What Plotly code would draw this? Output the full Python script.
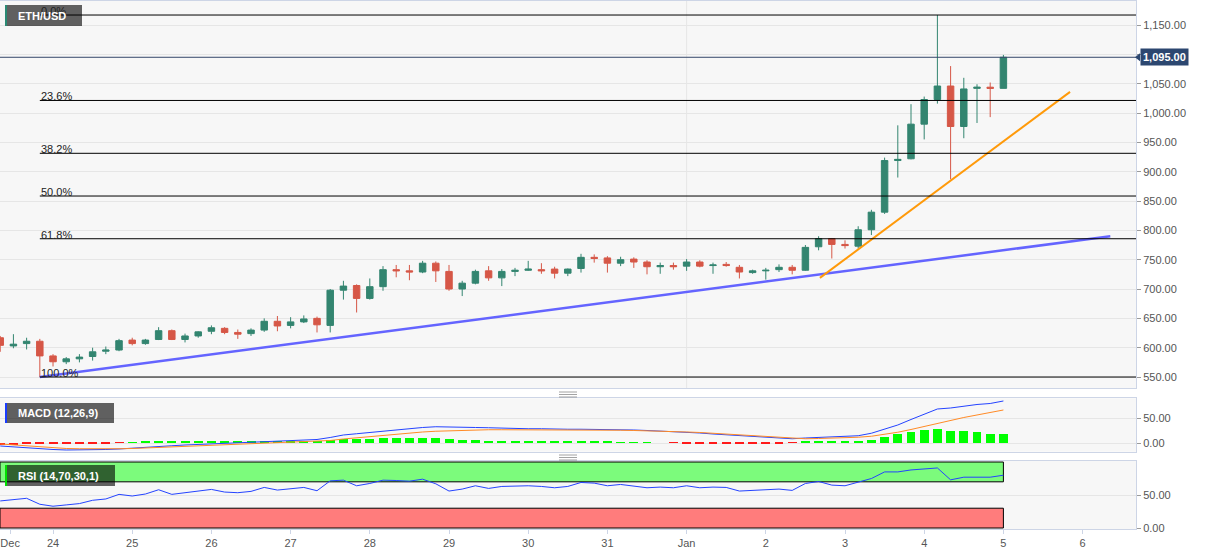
import pandas as pd
import plotly.graph_objects as go
from plotly.subplots import make_subplots

# ---------------- data (4-hour candles, ETH/USD) ----------------
times = pd.date_range("2020-12-23 08:00", periods=77, freq="4h")

opens = [617, 603, 607, 611, 586, 576, 581, 585, 594, 596,
         613, 607, 614, 629, 614, 620, 628, 633, 626, 624,
         630, 645, 638, 644, 650, 638, 698, 706, 684, 704,
         733, 731, 729, 744, 730, 700, 710, 731, 719, 730,
         732, 733, 734, 727, 735, 754, 753, 744, 751, 746,
         738, 740, 739, 746, 740, 742, 737, 728, 731, 733,
         737, 732, 772, 786, 776, 773, 801, 831, 919, 922,
         981, 1023, 1046, 977, 1042, 1044, 1042]
highs = [620, 623, 617, 615, 589, 584, 589, 600, 602, 615,
         617, 615, 635, 631, 624, 628, 638, 635, 631, 633,
         650, 654, 652, 655, 653, 700, 714, 708, 718, 739,
         741, 741, 748, 747, 741, 714, 733, 739, 734, 736,
         748, 744, 738, 735, 760, 759, 756, 755, 754, 749,
         745, 745, 751, 749, 745, 746, 741, 733, 736, 742,
         741, 775, 790, 787, 783, 807, 835, 924, 979, 1015,
         1028, 1167, 1080, 1060, 1049, 1052, 1099]
lows = [593, 599, 597, 550, 568, 572, 575, 578, 589, 594,
        604, 605, 613, 613, 609, 617, 623, 623, 615, 620,
        627, 628, 633, 642, 626, 626, 682, 660, 682, 697,
        720, 715, 727, 712, 697, 688, 708, 714, 705, 722,
        731, 726, 718, 722, 728, 745, 728, 739, 736, 725,
        726, 733, 731, 737, 726, 738, 718, 726, 716, 729,
        725, 731, 766, 752, 769, 769, 792, 828, 890, 921,
        955, 1016, 887, 957, 983, 993, 1042]
closes = [604, 606, 611, 586, 576, 581, 584, 593, 596, 612,
          607, 613, 629, 614, 620, 627, 634, 626, 623, 630,
          645, 637, 644, 649, 639, 698, 705, 684, 704, 733,
          731, 729, 744, 731, 700, 710, 730, 719, 730, 732,
          734, 731, 727, 734, 754, 752, 744, 750, 746, 738,
          740, 738, 746, 739, 741, 740, 729, 731, 732, 737,
          732, 771, 786, 776, 774, 801, 831, 919, 921, 981,
          1023, 1046, 977, 1041, 1044, 1042, 1095]

macd_line = [-6, -8, -9.5, -11, -13, -14, -14, -13.5, -13, -12,
             -10, -8.5, -7, -5.5, -4, -3, -1, 0, 1, 2.5,
             3.5, 4.5, 5.5, 6, 7, 11, 16, 18.5, 21, 24.5,
             27, 29, 31, 32.5, 32.5, 31.5, 31, 30.5, 29.5, 29.5,
             28.5, 28.5, 27.5, 27.5, 27.5, 27.5, 27.5, 26.5, 26, 25,
             24, 22.5, 21, 20, 18, 16.5, 14.5, 13, 11, 9.5,
             8.5, 10, 11, 11.5, 13, 14.5, 19.5, 27, 36, 47,
             58, 68, 70, 74, 77, 79, 84]
signal_line = [-2, -4, -6, -8, -10, -11, -11.5, -12, -12, -11.5,
               -11, -10, -9, -8, -7, -6, -4.5, -3.5, -2.5, -1.5,
               -0.5, 0.5, 1.5, 2, 3, 5, 8, 10.5, 13, 15.5,
               18, 20, 22, 23.5, 24.5, 25.5, 26, 26.5, 26.5, 26.5,
               26.5, 26.5, 26, 26, 26, 26, 26, 25.5, 25, 24.5,
               24, 23, 22, 21, 19.5, 18, 16.5, 15, 13, 11,
               9, 8.5, 9, 9.5, 10.5, 11.5, 13.5, 17, 21.5, 27,
               33, 40, 46, 51, 56, 61, 66]
macd_hist = [-4, -4, -3.5, -3, -3, -3, -2.5, -1.5, -1, -0.5,
             1, 1.5, 2, 2.5, 3, 3, 3.5, 3.5, 3.5, 4,
             4, 4, 4, 4, 4, 6, 8, 8, 8, 9,
             9, 9, 9, 9, 8, 6, 5, 4, 3, 3,
             2, 2, 1.5, 1.5, 1.5, 1.5, 1.5, 1, 1, 0.5,
             0, -0.5, -1, -1, -1.5, -1.5, -2, -2, -2, -1.5,
             -0.5, 1.5, 2, 2, 2.5, 3, 6, 11, 17, 21,
             25, 28, 24, 23, 21, 18, 18]
rsi = [41, 43, 45, 36, 33, 35, 37, 42, 44, 51,
       48.5, 51.5, 58, 51, 53.5, 56, 58.5, 54.5, 53.5, 55.5,
       61.5, 57.5, 59.5, 61.5, 56.5, 71.5, 72.5, 64, 67.5, 72.5,
       72, 71, 74, 67, 56, 59, 64, 60, 63, 63.5,
       64, 63, 61, 63, 69, 68, 64, 66, 64, 61,
       62, 61, 64, 61, 62, 61.5, 56, 57, 57, 59,
       57, 67.5, 70.5, 65, 64, 69, 75, 85, 85, 88,
       90, 91, 73, 77, 77, 77, 80]

fib_ratios = [0.0, 0.236, 0.382, 0.5, 0.618, 1.0]
fib_labels = ["0.0%", "23.6%", "38.2%", "50.0%", "61.8%", "100.0%"]
fib_high = 1167
fib_low = 550
fib_start = "2020-12-23 20:00"

blue_trend_x = ["2020-12-23 20:00", "2021-01-06 08:24"]
blue_trend_y = [550, 790]
orange_trend_x = ["2021-01-02 16:24", "2021-01-05 20:12"]
orange_trend_y = [719, 1036]

last_price = 1095
last_price_text = "1,095.00"

x_tick_vals = ["2020-12-23 11:00", "2020-12-24", "2020-12-25", "2020-12-26", "2020-12-27",
               "2020-12-28", "2020-12-29", "2020-12-30", "2020-12-31", "2021-01-01",
               "2021-01-02", "2021-01-03", "2021-01-04", "2021-01-05", "2021-01-06"]
x_tick_text = ["Dec", "24", "25", "26", "27", "28", "29", "30", "31", "Jan",
               "2", "3", "4", "5", "6"]
price_ticks = [550, 600, 650, 700, 750, 800, 850, 900, 950, 1000, 1050, 1100, 1150]
price_tick_text = ["550.00", "600.00", "650.00", "700.00", "750.00", "800.00", "850.00",
                   "900.00", "950.00", "1,000.00", "1,050.00", "", "1,150.00"]

# ---------------- styling ----------------
GREEN = "#338570"
RED = "#d65747"
BORDER = "#cdd5e6"
GRID = "#e6e6e6"
FONT = "Liberation Sans, Arial, sans-serif"
X_LEFT = "2020-12-23 07:56"
X_RIGHT = "2021-01-06 16:11"
RSI_END = "2021-01-05 00:00"

PLOT_W = 1136.0
PLOT_TOP, PLOT_BOT = 1.0, 529.0


def px(x):
    return x / PLOT_W


def py(y):
    return (PLOT_BOT - y) / (PLOT_BOT - PLOT_TOP)


fig = make_subplots(rows=3, cols=1, shared_xaxes=True)

fig.add_trace(go.Candlestick(
    x=times, open=opens, high=highs, low=lows, close=closes,
    increasing=dict(line=dict(color=GREEN, width=1), fillcolor=GREEN),
    decreasing=dict(line=dict(color=RED, width=1), fillcolor=RED),
    whiskerwidth=0, hoverinfo="skip", showlegend=False), row=1, col=1)

fig.add_trace(go.Scatter(x=blue_trend_x, y=blue_trend_y, mode="lines",
                         line=dict(color="#6464ff", width=2.5), hoverinfo="skip"), row=1, col=1)
fig.add_trace(go.Scatter(x=orange_trend_x, y=orange_trend_y, mode="lines",
                         line=dict(color="#ff9a0a", width=2), hoverinfo="skip"), row=1, col=1)

hist_colors = ["#00ff00" if v >= 0 else "#ff1a1a" for v in macd_hist]
fig.add_trace(go.Bar(x=times, y=macd_hist, marker=dict(color=hist_colors, line=dict(width=0)),
                     width=4 * 3600 * 1000 * 0.68, hoverinfo="skip"), row=2, col=1)
fig.add_trace(go.Scatter(x=times, y=macd_line, mode="lines",
                         line=dict(color="#2443ff", width=1), hoverinfo="skip"), row=2, col=1)
fig.add_trace(go.Scatter(x=times, y=signal_line, mode="lines",
                         line=dict(color="#ff8a26", width=1), hoverinfo="skip"), row=2, col=1)

fig.add_trace(go.Scatter(x=times, y=rsi, mode="lines",
                         line=dict(color="#2443ff", width=1), hoverinfo="skip"), row=3, col=1)

shapes = []
# vertical month gridline
shapes.append(dict(type="line", xref="x", yref="paper", x0="2021-01-01", x1="2021-01-01",
                   y0=py(388), y1=1, line=dict(color=GRID, width=1), layer="below"))
# RSI bands
shapes.append(dict(type="rect", xref="x3", yref="y3", x0=X_LEFT, x1=RSI_END, y0=70, y1=100,
                   fillcolor="#7cfb7c", line=dict(color="#000000", width=1), layer="below"))
shapes.append(dict(type="rect", xref="x3", yref="y3", x0=X_LEFT, x1=RSI_END, y0=0, y1=30,
                   fillcolor="#ff7c7c", line=dict(color="#000000", width=1), layer="below"))
# label boxes
BOX = "rgba(0,0,0,0.61)"
shapes.append(dict(type="rect", xref="paper", yref="paper", x0=px(5), x1=px(82), y0=py(26), y1=py(5),
                   fillcolor=BOX, line=dict(width=0)))
shapes.append(dict(type="rect", xref="paper", yref="paper", x0=px(5), x1=px(7), y0=py(26), y1=py(5),
                   fillcolor="#2a8a74", line=dict(width=0)))
shapes.append(dict(type="rect", xref="paper", yref="paper", x0=px(5), x1=px(114), y0=py(423), y1=py(403),
                   fillcolor=BOX, line=dict(width=0)))
shapes.append(dict(type="rect", xref="paper", yref="paper", x0=px(5), x1=px(7), y0=py(423), y1=py(403),
                   fillcolor="#1a3cff", line=dict(width=0)))
shapes.append(dict(type="rect", xref="paper", yref="paper", x0=px(5), x1=px(115), y0=py(486), y1=py(465),
                   fillcolor=BOX, line=dict(width=0)))
shapes.append(dict(type="rect", xref="paper", yref="paper", x0=px(5), x1=px(7), y0=py(486), y1=py(465),
                   fillcolor="#00e000", line=dict(width=0)))
# fibonacci lines
fib_levels = [fib_high - r * (fib_high - fib_low) for r in fib_ratios]
for lv in fib_levels:
    shapes.append(dict(type="line", xref="x", yref="y", x0=fib_start, x1=X_RIGHT, y0=lv, y1=lv,
                       line=dict(color="#000000", width=1)))
# last price line
shapes.append(dict(type="line", xref="paper", yref="y", x0=0, x1=1, y0=last_price, y1=last_price,
                   line=dict(color="#34476a", width=1)))
# price box notch
shapes.append(dict(type="path", xref="paper", yref="y",
                   path="M %f,%f L %f,%f L %f,%f Z" % (px(1135), last_price, px(1140), last_price + 7,
                                                       px(1140), last_price - 7),
                   fillcolor="#2c4770", line=dict(width=0)))
# panel separator handles
for yy in (392, 394.5, 397, 455, 457.5, 460):
    shapes.append(dict(type="line", xref="paper", yref="paper", x0=px(559), x1=px(577),
                       y0=py(yy), y1=py(yy), line=dict(color="#8c8c8c", width=0.8)))

annotations = []
for lv, lab in zip(fib_levels, fib_labels):
    annotations.append(dict(xref="x", yref="y", x=fib_start, y=lv, text=lab, showarrow=False,
                            xanchor="left", yanchor="bottom", yshift=-3, borderpad=0,
                            font=dict(family=FONT, size=11, color="#222222")))
annotations.append(dict(xref="paper", yref="paper", x=px(16), y=py(15.5), text="<b>ETH/USD</b>",
                        showarrow=False, xanchor="left", yanchor="middle",
                        font=dict(family=FONT, size=11, color="white")))
annotations.append(dict(xref="paper", yref="paper", x=px(16), y=py(413), text="<b>MACD (12,26,9)</b>",
                        showarrow=False, xanchor="left", yanchor="middle",
                        font=dict(family=FONT, size=11, color="white")))
annotations.append(dict(xref="paper", yref="paper", x=px(16), y=py(475.5), text="<b>RSI (14,70,30,1)</b>",
                        showarrow=False, xanchor="left", yanchor="middle",
                        font=dict(family=FONT, size=11, color="white")))
annotations.append(dict(xref="paper", yref="y", x=px(1140), y=last_price,
                        text="<b>" + last_price_text + "</b>", showarrow=False,
                        xanchor="left", yanchor="middle", bgcolor="#2c4770", borderpad=2,
                        font=dict(family=FONT, size=11, color="white")))

fig.update_layout(
    width=1207, height=555, margin=dict(l=0, r=71, t=1, b=26),
    paper_bgcolor="white", plot_bgcolor="#f7f7f7", showlegend=False,
    font=dict(family=FONT, size=11, color="#555555"),
    shapes=shapes, annotations=annotations, boxgap=0.3, bargap=0,
    xaxis_rangeslider_visible=False,
)

for r in (1, 2, 3):
    fig.update_xaxes(row=r, col=1, range=[X_LEFT, X_RIGHT], showgrid=False, zeroline=False,
                     showline=True, mirror=True, linecolor=BORDER, linewidth=1,
                     rangeslider=dict(visible=False))
fig.update_xaxes(row=1, col=1, showticklabels=False, ticks="")
fig.update_xaxes(row=2, col=1, showticklabels=False, ticks="")
fig.update_xaxes(row=3, col=1, tickmode="array", tickvals=x_tick_vals, ticktext=x_tick_text,
                 ticks="outside", ticklen=4, tickcolor=BORDER,
                 tickfont=dict(family=FONT, size=11, color="#555555"))

common_y = dict(side="right", showline=True, mirror=True, linecolor=BORDER, linewidth=1,
                gridcolor=GRID, zeroline=False, ticks="outside", ticklen=4, tickcolor="#9a9a9a",
                tickfont=dict(family=FONT, size=11, color="#555555"))
fig.update_yaxes(row=1, col=1, domain=[py(388), 1.0], range=[531.3, 1190.9],
                 tickmode="array", tickvals=price_ticks, ticktext=price_tick_text, **common_y)
fig.update_yaxes(row=2, col=1, domain=[py(451.7), py(398.3)], range=[-17.4, 89.4],
                 tickmode="array", tickvals=[0, 50], ticktext=["0.00", "50.00"], **common_y)
fig.update_yaxes(row=3, col=1, domain=[0, py(460.7)], range=[-1.5, 102],
                 tickmode="array", tickvals=[0, 50], ticktext=["0.00", "50.00"], **common_y)

fig.write_html("out.html", config={"displayModeBar": False},
               post_script="document.body.style.margin='0';document.body.style.overflow='hidden';")
